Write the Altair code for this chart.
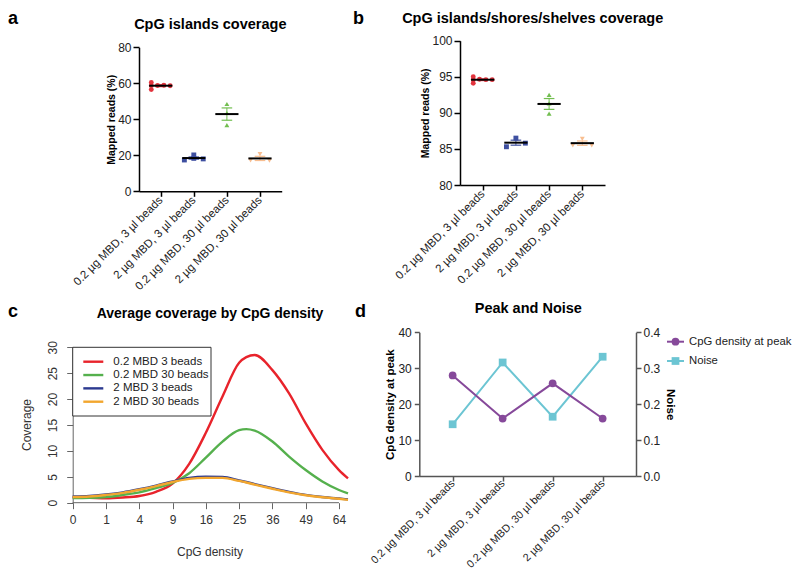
import json
import altair as alt
import pandas as pd

FONT = "Liberation Sans"
W, H = 784, 564  # whole drawing area (page minus the 8px margin)

# ---------------- data ----------------
categories = ["0.2 µg MBD, 3 µl beads", "2 µg MBD, 3 µl beads",
              "0.2 µg MBD, 30 µl beads", "2 µg MBD, 30 µl beads"]
group_colors = ["#E2333D", "#3E4FA0", "#72BE50", "#F8BE90"]
group_shapes = ["circle", "square", "triangle-up", "triangle-down"]

# panel a: CpG islands coverage (replicates, and their column in the scatter)
a_values = [[60.5, 56.5, 58.7, 58.8, 58.9, 58.6],
            [17.4, 20.2, 18.3, 18.0],
            [48.5, 43.5, 36.7],
            [20.6, 17.2, 17.0]]
a_slots = [[-1.5, -1.5, -1.5, -0.5, 0.5, 1.5],
           [-1.5, 0, 0, 1.5],
           [0, 0, 0],
           [0, -1.5, 1.5]]
a_ticks = [0, 20, 40, 60, 80]

# panel b: CpG islands/shores/shelves coverage
b_values = [[95.0, 94.1, 94.6, 94.65, 94.6, 94.6],
            [85.3, 86.5, 85.8],
            [92.5, 91.3, 89.9],
            [86.4, 85.5, 85.5]]
b_slots = [[-1.5, -1.5, -1.5, -0.5, 0.5, 1.5],
           [-1.5, 0, 1.5],
           [0, 0, 0],
           [0, -1.5, 1.5]]
b_ticks = [80, 85, 90, 95, 100]

# panel c: average coverage by CpG density
density = [0, 0.25, 1, 2.25, 4, 6.25, 9, 12.25, 16, 20.25, 25, 27.2, 29.9,
           36, 42.25, 49, 56.25, 64, 68.4]
series_names = ["0.2 MBD 3 beads", "0.2 MBD 30 beads", "2 MBD 3 beads", "2 MBD 30 beads"]
series_colors = ["#E8232B", "#55B04D", "#2C3A90", "#F2A62E"]
cov_red = [1.0, 0.95, 0.85, 1.0, 1.3, 2.1, 3.7, 7.5, 13.5, 20.5, 27.0, 28.1, 28.5,
           25.6, 21.1, 15.3, 10.2, 6.3, 4.7]
cov_green = [0.9, 0.95, 1.1, 1.5, 2.0, 2.8, 3.8, 5.7, 8.7, 11.8, 14.0, 14.2, 13.9,
             11.8, 8.9, 6.3, 4.1, 2.45, 1.8]
cov_blue = [1.2, 1.3, 1.6, 2.0, 2.6, 3.3, 4.1, 4.8, 5.0, 4.95, 4.3, 4.0, 3.6,
            2.8, 2.1, 1.5, 1.1, 0.8, 0.65]
cov_orange = [1.1, 1.2, 1.5, 1.9, 2.5, 3.2, 4.0, 4.6, 4.8, 4.8, 4.2, 3.9, 3.5,
              2.7, 2.0, 1.45, 1.05, 0.75, 0.55]
density_ticks = [0, 1, 4, 9, 16, 25, 36, 49, 64]
density_max = 68.4
coverage_ticks = [0, 5, 10, 15, 20, 25, 30]

# panel d: peak and noise
peak_density = [28.0, 16.0, 25.8, 16.0]
noise = [0.144, 0.316, 0.165, 0.332]
d_series = ["CpG density at peak", "Noise"]
d_colors = ["#86499A", "#6CC5D3"]
d_shapes = ["circle", "square"]
peak_ticks = [0, 10, 20, 30, 40]
noise_ticks = [0.0, 0.1, 0.2, 0.3, 0.4]

LABEL_EXPR = json.dumps(categories, ensure_ascii=False) + "[datum.value]"


def text_layer(txt, x, y, size, weight="bold", align="center", baseline="middle",
               color="black", angle=0):
    kw = dict(font=FONT, fontSize=size, fontWeight=weight, align=align,
              baseline=baseline, color=color)
    if angle:
        kw["angle"] = angle
    return alt.Chart(pd.DataFrame({"t": [txt]})).mark_text(**kw).encode(
        x=alt.value(x), y=alt.value(y), text="t:N")


def scatter_layers(values, slots, y_dom, y_ticks, y_range, x_dom, x_range):
    rows = []
    for gi, (vals, sl) in enumerate(zip(values, slots)):
        for v, s in zip(vals, sl):
            rows.append({"group": categories[gi], "gi": gi, "slot": s, "value": v})
    df = pd.DataFrame(rows)
    xs = alt.Scale(domain=x_dom, range=x_range, nice=False, zero=False)
    ys = alt.Scale(domain=y_dom, range=y_range, nice=False, zero=False)
    cs = alt.Scale(domain=categories, range=group_colors)
    ss = alt.Scale(domain=categories, range=group_shapes)
    xa = alt.Axis(orient="bottom", offset=-(H - y_range[0]),
                  values=[0, 1, 2, 3], labelExpr=LABEL_EXPR, labelAngle=-45,
                  labelAlign="right", labelBaseline="middle", labelPadding=2,
                  labelFontSize=11.5, labelColor="#222", labelFont=FONT,
                  labelOverlap=False, labelFlush=False, labelBound=False,
                  tickSize=5, tickWidth=1.5, tickColor="black",
                  domainColor="black", domainWidth=1.5, grid=False, title=None)
    ya = alt.Axis(orient="left", offset=-x_range[0], values=y_ticks, tickSize=6,
                  tickWidth=1.5, tickColor="black", domainColor="black",
                  domainWidth=1.5, grid=False, labelFontSize=12, labelColor="#222",
                  labelFont=FONT, labelPadding=2, labelFlush=False, labelOverlap=False,
                  title="Mapped reads (%)", titleFont=FONT, titleFontSize=10.5,
                  titleFontWeight="bold", titleColor="black", titlePadding=1)
    base = alt.Chart(df)
    pts = base.transform_calculate(px="datum.gi + datum.slot * 0.19").mark_point(
        filled=True, size=24, opacity=1).encode(
        x=alt.X("px:Q", scale=xs, axis=xa),
        y=alt.Y("value:Q", scale=ys, axis=ya),
        color=alt.Color("group:N", scale=cs, legend=None),
        shape=alt.Shape("group:N", scale=ss, legend=None))
    stats = base.transform_aggregate(
        m="mean(value)", se="stderr(value)", groupby=["gi", "group"]
    ).transform_calculate(
        lo="datum.m - datum.se", hi="datum.m + datum.se",
        ml="datum.gi - 0.35", mr="datum.gi + 0.35",
        cl="datum.gi - 0.16", cr="datum.gi + 0.16")
    col = alt.Color("group:N", scale=cs, legend=None)
    err = stats.mark_rule(strokeWidth=1).encode(
        x=alt.X("gi:Q", scale=xs, axis=None),
        y=alt.Y("lo:Q", scale=ys, axis=None), y2="hi:Q", color=col)
    cap_lo = stats.mark_rule(strokeWidth=1.2).encode(
        x=alt.X("cl:Q", scale=xs, axis=None), x2="cr:Q",
        y=alt.Y("lo:Q", scale=ys, axis=None), color=col)
    cap_hi = stats.mark_rule(strokeWidth=1.2).encode(
        x=alt.X("cl:Q", scale=xs, axis=None), x2="cr:Q",
        y=alt.Y("hi:Q", scale=ys, axis=None), color=col)
    mean = stats.mark_rule(strokeWidth=2, color="black").encode(
        x=alt.X("ml:Q", scale=xs, axis=None), x2="mr:Q",
        y=alt.Y("m:Q", scale=ys, axis=None))
    return [err, cap_lo, cap_hi, pts, mean]


# ---------------- panels a and b ----------------
layers_a = scatter_layers(a_values, a_slots, [0, 80], a_ticks, [183.3, 39.3],
                          [-0.656, 3.656], [131, 273.7])
layers_b = scatter_layers(b_values, b_slots, [80, 100], b_ticks, [177, 32.7],
                          [-0.684, 3.684], [452, 597])

# ---------------- panel c ----------------
c_rows = []
for name, vals in zip(series_names, [cov_red, cov_green, cov_blue, cov_orange]):
    for d, v in zip(density, vals):
        c_rows.append({"series": name, "density": d, "coverage": v})
df_c = pd.DataFrame(c_rows)

C_X0, C_X1, C_Y0, C_Y1 = 64.7, 340, 494.7, 339.3
xs_c = alt.Scale(type="sqrt", domain=[0, density_max], range=[C_X0, C_X1],
                 nice=False, zero=False)
ys_c = alt.Scale(domain=[0, 30], range=[C_Y0, C_Y1], nice=False, zero=False)
col_c = alt.Color("series:N", scale=alt.Scale(domain=series_names, range=series_colors),
                  legend=None)
lines_c = alt.Chart(df_c).mark_line(strokeWidth=2.4, interpolate="monotone").encode(
    x=alt.X("density:Q", scale=xs_c,
            axis=alt.Axis(orient="bottom", offset=-(H - C_Y0), values=density_ticks,
                          tickSize=6, tickColor="#666", domain=False, tickWidth=1,
                          labelFontSize=12, labelColor="#333", labelFont=FONT,
                          labelPadding=6, labelFlush=False, labelOverlap=False,
                          grid=False, title=None)),
    y=alt.Y("coverage:Q", scale=ys_c,
            axis=alt.Axis(orient="left", offset=-C_X0, values=coverage_ticks,
                          tickSize=6, tickColor="#666", domainColor="#666",
                          domainWidth=1, tickWidth=1, labelFontSize=12,
                          labelColor="#333", labelFont=FONT, labelAngle=-90,
                          labelAlign="center", labelBaseline="bottom", labelPadding=7,
                          labelFlush=False, labelOverlap=False, grid=False,
                          title=None)),
    color=col_c)

# R-style x axis line running from the first to the last tick
xline_c = alt.Chart(pd.DataFrame({"lo": [min(density_ticks)], "hi": [max(density_ticks)]})
                    ).mark_rule(color="#666", strokeWidth=1).encode(
    x=alt.X("lo:Q", scale=xs_c, axis=None), x2="hi:Q", y=alt.value(C_Y0))

box_c = alt.Chart(pd.DataFrame({"k": [0]})).mark_rect(
    fill="white", stroke="#333", strokeWidth=1).encode(
    x=alt.value(C_X0), x2=alt.value(203), y=alt.value(C_Y1), y2=alt.value(408))
leg_y_c = alt.Y("series:N", scale=alt.Scale(type="point", domain=series_names,
                                            range=[353.7, 393.7], padding=0), axis=None)
leg_df_c = pd.DataFrame({"series": series_names})
leg_rule_c = alt.Chart(leg_df_c).mark_rule(strokeWidth=2.4).encode(
    x=alt.value(75.3), x2=alt.value(95.3), y=leg_y_c, color=col_c)
leg_text_c = alt.Chart(leg_df_c).mark_text(
    font=FONT, fontSize=11.5, align="left", baseline="middle", color="#222").encode(
    x=alt.value(105.3), y=leg_y_c, text="series:N")

layers_c = [box_c, lines_c, xline_c, leg_rule_c, leg_text_c]

# ---------------- panel d ----------------
df_d = pd.DataFrame({"cat": categories, "peak": peak_density, "noise": noise})
D_X0, D_X1, D_Y0, D_Y1 = 411.3, 628, 468, 324.3
xs_d = alt.Scale(type="point", domain=categories, range=[D_X0, D_X1], padding=0.667)
xa_d = alt.Axis(orient="bottom", offset=-(H - D_Y0), labelAngle=-45, labelAlign="right",
                labelBaseline="middle", labelPadding=0.5, labelFontSize=10.8,
                labelColor="#222", labelFont=FONT, labelOverlap=False, tickSize=5,
                tickWidth=1.5, tickColor="#555", domainColor="#555", domainWidth=1.5,
                grid=False, title=None)
ys_peak = alt.Scale(domain=[0, 40], range=[D_Y0, D_Y1], nice=False, zero=True)
ys_noise = alt.Scale(domain=[0, 0.4], range=[D_Y0, D_Y1], nice=False, zero=True)
ax_common = dict(tickSize=5, tickWidth=1.5, tickColor="#555", domainColor="#555",
                 domainWidth=1.5, grid=False, labelFontSize=12, labelColor="#222",
                 labelFont=FONT, labelFlush=False, labelOverlap=False,
                 titleFont=FONT, titleFontSize=11.5, titleFontWeight="bold",
                 titleColor="black")
peak_line = alt.Chart(df_d).mark_line(color=d_colors[0], strokeWidth=2).encode(
    x=alt.X("cat:N", scale=xs_d, axis=xa_d),
    y=alt.Y("peak:Q", scale=ys_peak,
            axis=alt.Axis(orient="left", offset=-D_X0, values=peak_ticks,
                          labelPadding=3, title="CpG density at peak", titlePadding=2,
                          **ax_common)))
noise_line = alt.Chart(df_d).mark_line(color=d_colors[1], strokeWidth=2).encode(
    x=alt.X("cat:N", scale=xs_d, axis=None),
    y=alt.Y("noise:Q", scale=ys_noise,
            axis=alt.Axis(orient="right", offset=-(W - D_X1), values=noise_ticks,
                          format=".1f", labelPadding=2, title="Noise", titlePadding=5,
                          **ax_common)))
peak_pts = alt.Chart(df_d).mark_point(filled=True, shape="circle", size=60, opacity=1,
                                      color=d_colors[0]).encode(
    x=alt.X("cat:N", scale=xs_d, axis=None),
    y=alt.Y("peak:Q", scale=ys_peak, axis=None))
noise_pts = alt.Chart(df_d).mark_point(filled=True, shape="square", size=60, opacity=1,
                                       color=d_colors[1]).encode(
    x=alt.X("cat:N", scale=xs_d, axis=None),
    y=alt.Y("noise:Q", scale=ys_noise, axis=None))

leg_df_d = pd.DataFrame({"name": d_series})
leg_y_d = alt.Y("name:N", scale=alt.Scale(type="point", domain=d_series,
                                          range=[333.7, 353], padding=0), axis=None)
col_d = alt.Color("name:N", scale=alt.Scale(domain=d_series, range=d_colors), legend=None)
leg_rule_d = alt.Chart(leg_df_d).mark_rule(strokeWidth=2).encode(
    x=alt.value(659), x2=alt.value(676), y=leg_y_d, color=col_d)
leg_pts_d = alt.Chart(leg_df_d).mark_point(filled=True, size=60, opacity=1).encode(
    x=alt.value(667.5), y=leg_y_d, color=col_d,
    shape=alt.Shape("name:N", scale=alt.Scale(domain=d_series, range=d_shapes),
                    legend=None))
leg_text_d = alt.Chart(leg_df_d).mark_text(
    font=FONT, fontSize=11.3, align="left", baseline="middle", color="#222").encode(
    x=alt.value(681), y=leg_y_d, text="name:N")

layers_d = [noise_line, peak_line, noise_pts, peak_pts, leg_rule_d, leg_pts_d, leg_text_d]

# ---------------- titles and panel letters ----------------
texts = [
    text_layer("CpG islands coverage", 202.3, 17, 14.5),
    text_layer("CpG islands/shores/shelves coverage", 524.7, 11, 14.5),
    text_layer("Average coverage by CpG density", 202, 306, 14),
    text_layer("Peak and Noise", 520.3, 301, 14.5),
    text_layer("CpG density", 202, 544, 12, weight="normal", color="#333"),
    text_layer("Coverage", 19, 417, 12, weight="normal", color="#333", angle=270),
    text_layer("a", 0, 16, 18, align="left", baseline="alphabetic"),
    text_layer("b", 345, 16, 18, align="left", baseline="alphabetic"),
    text_layer("c", 0, 309, 18, align="left", baseline="alphabetic"),
    text_layer("d", 347, 309, 18, align="left", baseline="alphabetic"),
]

chart = alt.layer(*(layers_a + layers_b + layers_c + layers_d + texts)).resolve_scale(
    x="independent", y="independent", color="independent", shape="independent"
).properties(
    width=W, height=H, padding=0, autosize=alt.AutoSizeParams(type="none")
).configure_view(stroke="transparent").configure_text(font=FONT)

chart.save("out.html", embed_options={"renderer": "svg", "actions": False})
